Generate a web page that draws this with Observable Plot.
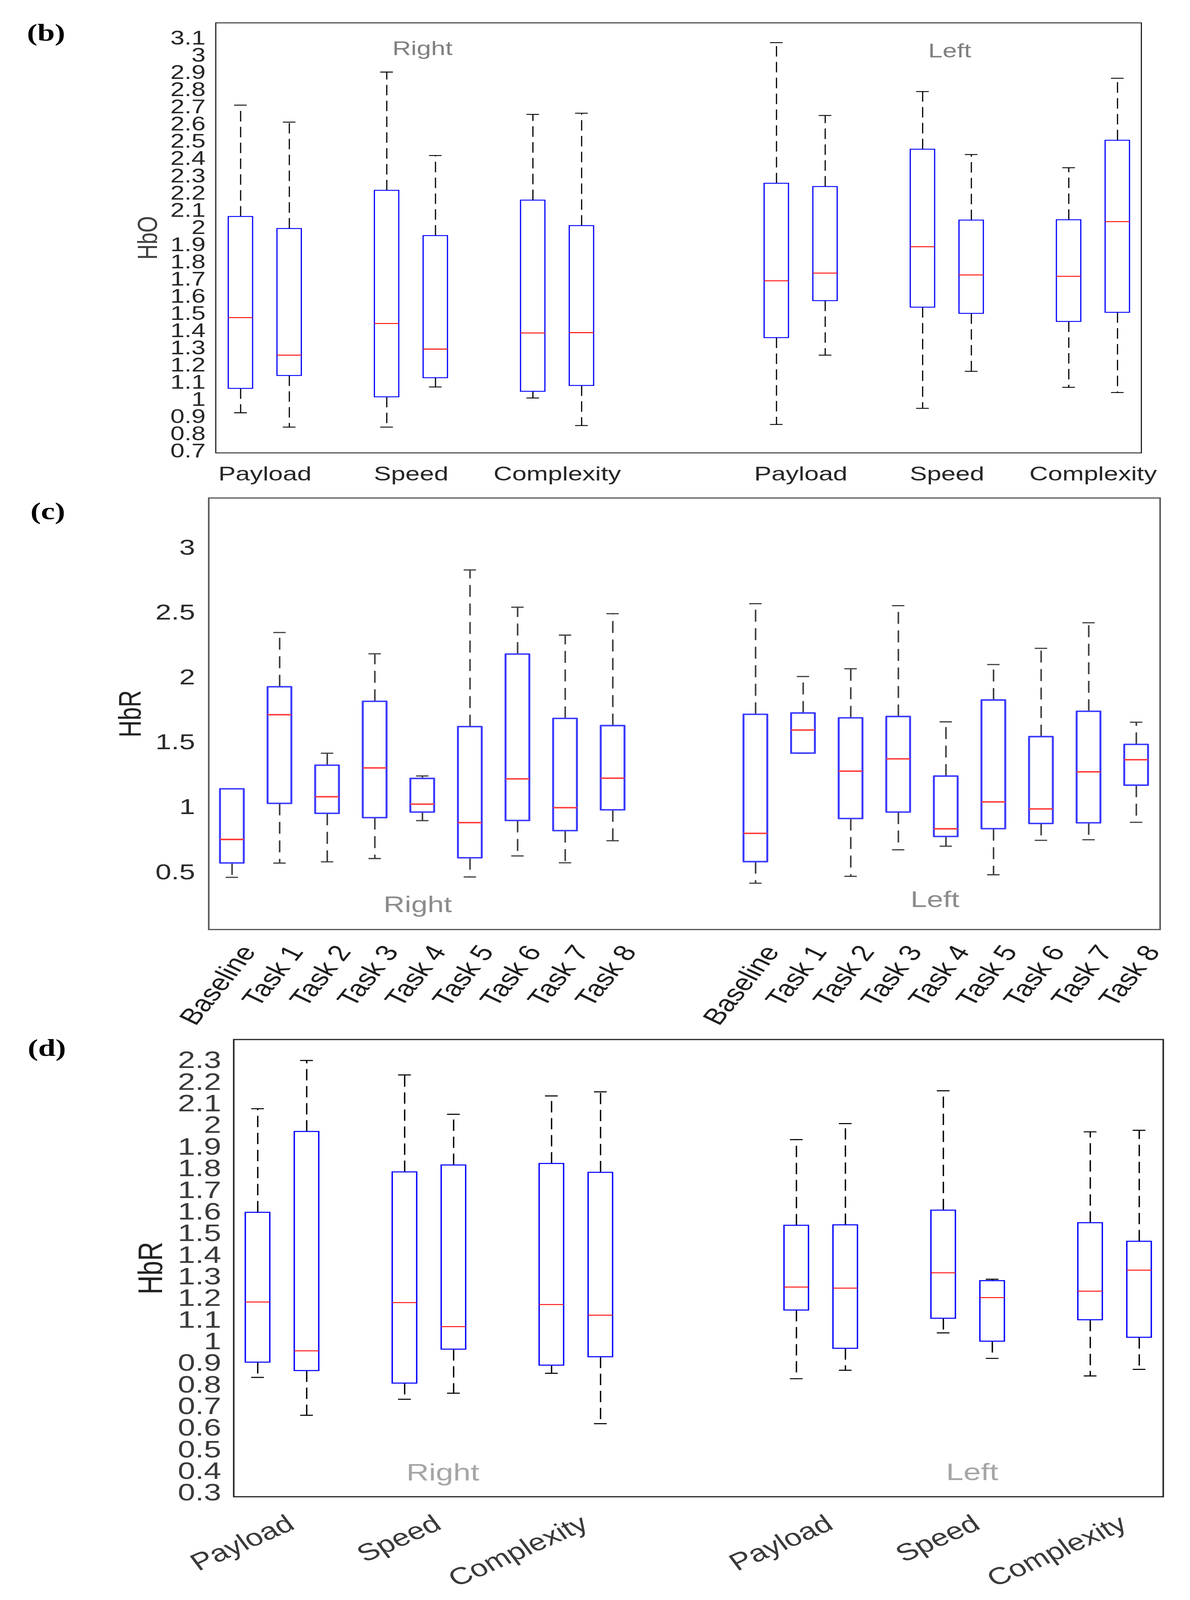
<!DOCTYPE html>
<html>
<head>
<meta charset="utf-8">
<script src="https://cdn.jsdelivr.net/npm/d3@7"></script>
<script src="https://cdn.jsdelivr.net/npm/@observablehq/plot@0.6"></script>
<style>
  html, body { margin: 0; padding: 0; background: #fff; overflow: hidden; }
  #viewport { position: relative; width: 3047px; overflow: hidden; background: #fff; }
  #page { position: relative; width: 3047px; height: 5354px; background: #fff; overflow: hidden; transform-origin: 0 0; }
  .panel { position: absolute; left: 0; width: 3047px; }
  .tag { position: absolute; font-family: "Liberation Serif", "DejaVu Serif", serif; font-weight: bold;
         font-size: 80px; line-height: 80px; color: #000; white-space: nowrap; }
</style>
</head>
<body>
<div id="viewport">
<div id="page">
  <div id="pb" class="panel" style="top:0px"></div>
  <div id="pc" class="panel" style="top:1640px"></div>
  <div id="pd" class="panel" style="top:3470px"></div>
  <div class="tag" style="left:69px;top:69px">(b)</div>
  <div class="tag" style="left:78px;top:1670px">(c)</div>
  <div class="tag" style="left:71px;top:3466px">(d)</div>
</div>
</div>
<script>
// ---------------- data ----------------
const sides = ["Right", "Left"];
const conditionGroups = ["Payload", "Speed", "Complexity"];
const taskLabels = ["Baseline", "Task 1", "Task 2", "Task 3", "Task 4", "Task 5", "Task 6", "Task 7", "Task 8"];

const hboTicks = [0.7, 0.8, 0.9, 1, 1.1, 1.2, 1.3, 1.4, 1.5, 1.6, 1.7, 1.8, 1.9, 2, 2.1, 2.2, 2.3, 2.4, 2.5, 2.6, 2.7, 2.8, 2.9, 3, 3.1];
const hbrTaskTicks = [0.5, 1, 1.5, 2, 2.5, 3];
const hbrTicks = [0.3, 0.4, 0.5, 0.6, 0.7, 0.8, 0.9, 1, 1.1, 1.2, 1.3, 1.4, 1.5, 1.6, 1.7, 1.8, 1.9, 2, 2.1, 2.2, 2.3];

// each row: [lower whisker, Q1, median, Q3, upper whisker]; two boxes per condition group
const hboRight = [
  [0.924, 1.065, 1.477, 2.064, 2.712],
  [0.841, 1.140, 1.259, 1.994, 2.613],
  [0.841, 1.016, 1.443, 2.216, 2.904],
  [1.074, 1.127, 1.294, 1.953, 2.419],
  [1.010, 1.048, 1.388, 2.159, 2.658],
  [0.850, 1.082, 1.390, 2.011, 2.665]
];
const hboLeft = [
  [0.856, 1.360, 1.691, 2.257, 3.075],
  [1.259, 1.575, 1.736, 2.238, 2.652],
  [0.950, 1.537, 1.889, 2.455, 2.791],
  [1.165, 1.501, 1.725, 2.043, 2.425],
  [1.072, 1.454, 1.717, 2.045, 2.348],
  [1.042, 1.507, 2.035, 2.507, 2.868]
];

// one box per task label
const hbrTaskRight = [
  [0.460, 0.570, 0.752, 1.141, 1.141],
  [0.570, 1.029, 1.713, 1.927, 2.346],
  [0.580, 0.952, 1.081, 1.323, 1.416],
  [0.605, 0.919, 1.303, 1.815, 2.182],
  [0.897, 0.962, 1.024, 1.221, 1.241],
  [0.463, 0.610, 0.882, 1.620, 2.828],
  [0.625, 0.897, 1.219, 2.179, 2.541],
  [0.572, 0.819, 0.997, 1.683, 2.326],
  [0.742, 0.979, 1.224, 1.628, 2.491]
];
const hbrTaskLeft = [
  [0.415, 0.580, 0.799, 1.715, 2.568],
  [1.416, 1.416, 1.595, 1.725, 2.007],
  [0.468, 0.912, 1.278, 1.688, 2.067],
  [0.672, 0.962, 1.373, 1.698, 2.553],
  [0.700, 0.774, 0.834, 1.239, 1.658],
  [0.480, 0.834, 1.041, 1.825, 2.099],
  [0.745, 0.874, 0.987, 1.543, 2.224],
  [0.750, 0.879, 1.273, 1.738, 2.421],
  [0.884, 1.169, 1.366, 1.483, 1.655]
];

const hbrRight = [
  [0.834, 0.904, 1.183, 1.597, 2.077],
  [0.659, 0.865, 0.957, 1.971, 2.300],
  [0.733, 0.807, 1.180, 1.784, 2.233],
  [0.761, 0.964, 1.069, 1.816, 2.051],
  [0.853, 0.890, 1.171, 1.823, 2.136],
  [0.620, 0.929, 1.122, 1.782, 2.155]
];
const hbrLeft = [
  [0.828, 1.145, 1.252, 1.537, 1.934],
  [0.867, 0.968, 1.247, 1.539, 2.008],
  [1.040, 1.107, 1.318, 1.607, 2.160],
  [0.922, 1.001, 1.203, 1.281, 1.288],
  [0.841, 1.100, 1.233, 1.549, 1.970],
  [0.871, 1.019, 1.330, 1.463, 1.977]
];

// ---------------- helpers ----------------
const SIDE_STEP = 11;
function toRow(v, side, label, pos) {
  return { side, label, pos, lo: v[0], q1: v[1], med: v[2], q3: v[3], hi: v[4] };
}
function groupedRows(right, left) {
  const rows = [];
  [right, left].forEach((arr, s) => arr.forEach((v, i) => {
    const g = Math.floor(i / 2);
    rows.push(toRow(v, sides[s], conditionGroups[g], s * SIDE_STEP + g * 3 + (i % 2)));
  }));
  return rows;
}
function taskRows(right, left) {
  const rows = [];
  [right, left].forEach((arr, s) => arr.forEach((v, i) => {
    rows.push(toRow(v, sides[s], taskLabels[i], s * SIDE_STEP + i));
  }));
  return rows;
}
function labelCenters(rows) {
  return d3.rollups(rows, v => d3.mean(v, d => d.pos), d => d.side, d => d.label)
    .flatMap(([side, arr]) => arr.map(([label, pos]) => ({ side, label, pos })));
}
function sideCenters(rows) {
  return d3.rollups(rows, v => (d3.min(v, d => d.pos) + d3.max(v, d => d.pos)) / 2, d => d.side)
    .map(([side, pos]) => ({ side, pos }));
}
function boxMarks(rows, st) {
  const h = 0.25, c = 0.13;
  const wh = { stroke: st.whisker, strokeWidth: st.ww };
  return [
    Plot.ruleX(rows, { x: "pos", y1: "q3", y2: "hi", ...wh, strokeDasharray: st.dash }),
    Plot.ruleX(rows, { x: "pos", y1: "q1", y2: "lo", ...wh, strokeDasharray: st.dash }),
    Plot.ruleY(rows, { y: "hi", x1: d => d.pos - c, x2: d => d.pos + c, ...wh }),
    Plot.ruleY(rows, { y: "lo", x1: d => d.pos - c, x2: d => d.pos + c, ...wh }),
    Plot.rect(rows, { x1: d => d.pos - h, x2: d => d.pos + h, y1: "q1", y2: "q3",
      fill: "white", stroke: st.box, strokeWidth: st.bw, strokeLinejoin: st.join || "miter" }),
    Plot.ruleY(rows, { y: "med", x1: d => d.pos - h, x2: d => d.pos + h, stroke: st.median, strokeWidth: st.mw })
  ];
}
const FONT = "'Liberation Sans', Arial, Helvetica, sans-serif";
function yTitle(text, dx, fontSize, fill) {
  return Plot.text([text], { text: d => d, frameAnchor: "left", textAnchor: "middle", lineAnchor: "middle",
    rotate: -90, dx, fontSize, fill, fontFamily: FONT });
}
function sideLabel(centers, side, anchor, dx, dy, fontSize, fill) {
  return Plot.text(centers.filter(d => d.side === side), { x: "pos", text: "side", frameAnchor: anchor,
    textAnchor: "middle", lineAnchor: "middle", dx, dy, fontSize, fill, fontFamily: FONT });
}

// ---------------- panel (b) ----------------
{
  const rows = groupedRows(hboRight, hboLeft);
  const centers = labelCenters(rows);
  const nameAt = new Map(centers.map(d => [d.pos, d.label]));
  const sc = sideCenters(rows);
  const chart = Plot.plot({
    width: 3047, height: 1640,
    marginTop: 76, marginBottom: 125, marginLeft: 552, marginRight: 125,
    x: { domain: [-0.51, 18.49], label: null },
    y: { domain: [0.691, 3.19], label: null },
    style: { fontFamily: FONT, color: "#262626", background: "transparent" },
    marks: [
      ...boxMarks(rows, { whisker: "#000", ww: 3, dash: "35,18", box: "#0000ff", bw: 3, median: "#ff0000", mw: 3 }),
      Plot.axisY(hboTicks, { tickSize: 0, tickPadding: 26, tickFormat: d => String(d), fontSize: 65, label: null, fill: "#262626" }),
      Plot.axisX(centers.map(d => d.pos), { tickSize: 0, tickPadding: 45, tickFormat: d => nameAt.get(d), fontSize: 66, label: null, fill: "#262626" }),
      yTitle("HbO", -173, 71, "#404040"),
      sideLabel(sc, "Right", "top", 29, 87, 66, "#808080"),
      sideLabel(sc, "Left", "top", 7, 95, 66, "#808080"),
      Plot.frame({ stroke: "#262626", strokeWidth: 3 })
    ]
  });
  document.getElementById("pb").appendChild(chart);
}

// ---------------- panel (c) ----------------
{
  const rows = taskRows(hbrTaskRight, hbrTaskLeft);
  const sc = sideCenters(rows);
  const chart = Plot.plot({
    width: 3047, height: 1830,
    marginTop: 26, marginBottom: 360, marginLeft: 534, marginRight: 77,
    x: { domain: [-0.49, 19.5], label: null, axis: null },
    y: { domain: [0.058, 3.382], label: null },
    style: { fontFamily: FONT, color: "#2a2a2a", background: "transparent" },
    marks: [
      ...boxMarks(rows, { whisker: "#404040", ww: 4, dash: "40,22", box: "#3a3aff", bw: 5, median: "#ff3b3b", mw: 5, join: "round" }),
      Plot.axisY(hbrTaskTicks, { tickSize: 0, tickPadding: 35, tickFormat: d => String(d), fontSize: 73, label: null, fill: "#2a2a2a" }),
      Plot.text(rows, { x: "pos", text: "label", frameAnchor: "bottom", rotate: -58, textAnchor: "end", lineAnchor: "middle",
        dx: 42, dy: 61, fontSize: 77, fill: "#1e1e1e", fontFamily: FONT }),
      yTitle("HbR", -200, 79, "#222"),
      sideLabel(sc, "Right", "bottom", -12, -83, 75, "#8c8c8c"),
      sideLabel(sc, "Left", "bottom", -28, -99, 75, "#8c8c8c"),
      Plot.frame({ stroke: "#555", strokeWidth: 4 })
    ]
  });
  document.getElementById("pc").appendChild(chart);
}

// ---------------- panel (d) ----------------
{
  const rows = groupedRows(hbrRight, hbrLeft);
  const centers = labelCenters(rows);
  const sc = sideCenters(rows);
  const chart = Plot.plot({
    width: 3047, height: 1884,
    marginTop: 8, marginBottom: 346, marginLeft: 598, marginRight: 69,
    x: { domain: [-0.49, 18.49], label: null, axis: null },
    y: { domain: [0.282, 2.397], label: null },
    style: { fontFamily: FONT, color: "#3a3a3a", background: "transparent" },
    marks: [
      ...boxMarks(rows, { whisker: "#000", ww: 3.5, dash: "38,19", box: "#0000ff", bw: 3.5, median: "#ff0000", mw: 3 }),
      Plot.axisY(hbrTicks, { tickSize: 0, tickPadding: 32, tickFormat: d => String(d), fontSize: 80, label: null, fill: "#3a3a3a" }),
      Plot.text(centers, { x: "pos", text: "label", frameAnchor: "bottom", rotate: -30, textAnchor: "end", lineAnchor: "middle",
        dx: 23, dy: 83, fontSize: 80, fill: "#3a3a3a", fontFamily: FONT }),
      yTitle("HbR", -212, 88, "#222"),
      sideLabel(sc, "Right", "bottom", 35, -80, 80, "#a6a6a6"),
      sideLabel(sc, "Left", "bottom", 11, -82, 80, "#a6a6a6"),
      Plot.frame({ stroke: "#262626", strokeWidth: 4 })
    ]
  });
  document.getElementById("pd").appendChild(chart);
}

// The photographed viewport can be shorter than the 5354 px figure; fit the whole
// figure vertically into it so no panel is cut off.
{
  const PAGE_H = 5354;
  const vh = window.innerHeight;
  const sy = (vh > 0 && vh < PAGE_H) ? vh / PAGE_H : 1;
  const page = document.getElementById("page");
  page.style.transform = `scale(1, ${sy})`;
  document.getElementById("viewport").style.height = (PAGE_H * sy) + "px";
}
</script>
</body>
</html>
